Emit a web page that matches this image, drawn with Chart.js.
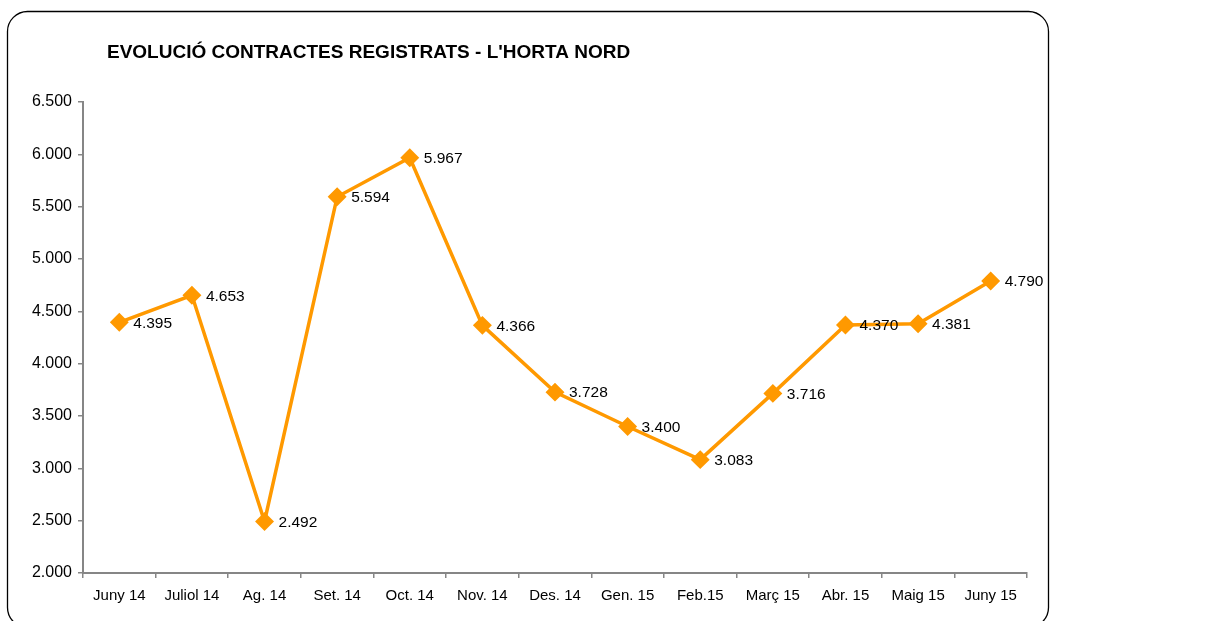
<!DOCTYPE html>
<html>
<head>
<meta charset="utf-8">
<script src="https://cdn.jsdelivr.net/npm/chart.js@4"></script>
<style>
  body { margin: 0; background: #fff; }
  canvas { display: block; }
</style>
</head>
<body>
<canvas id="chart" width="1229" height="621"></canvas>
<script>
const TITLE = "EVOLUCIÓ CONTRACTES REGISTRATS - L'HORTA NORD";
const months = ['Juny 14', 'Juliol 14', 'Ag. 14', 'Set. 14', 'Oct. 14', 'Nov. 14', 'Des. 14',
                'Gen. 15', 'Feb.15', 'Març 15', 'Abr. 15', 'Maig 15', 'Juny 15'];
const contracts = [4395, 4653, 2492, 5594, 5967, 4366, 3728, 3400, 3083, 3716, 4370, 4381, 4790];
const yMin = 2000;
const yMax = 6500;
const yStep = 500;

const FONT = '"Liberation Sans", Arial, sans-serif';
const ORANGE = '#FF9900';
const AXIS_GREY = '#868686';

// 4395 -> "4.395"
function fmt(v) {
    return String(Math.round(v)).replace(/\B(?=(\d{3})+(?!\d))/g, '.');
}

// frame + title drawn behind the chart
let framePlugin = {
    id: 'frame',
    beforeDraw(chart) {
        let ctx = chart.ctx;
        ctx.save();
        ctx.fillStyle = '#fff';
        ctx.fillRect(0, 0, chart.width, chart.height);
        ctx.beginPath();
        ctx.roundRect(7.5, 11.5, 1041, 616, 20);
        ctx.lineWidth = 1.3;
        ctx.strokeStyle = '#000';
        ctx.stroke();
        ctx.fillStyle = '#000';
        ctx.font = 'bold 19px ' + FONT;
        ctx.textBaseline = 'middle';
        ctx.fillText(TITLE, 107, 53);
        ctx.restore();
    }
};

// value labels to the right of each point
let labelPlugin = {
    id: 'valueLabels',
    afterDatasetsDraw(chart) {
        let ctx = chart.ctx;
        let meta = chart.getDatasetMeta(0);
        ctx.save();
        ctx.fillStyle = '#000';
        ctx.font = '15.5px ' + FONT;
        ctx.textBaseline = 'middle';
        meta.data.forEach((pt, i) => {
            ctx.fillText(fmt(contracts[i]), pt.x + 14, pt.y + 1);
        });
        ctx.restore();
    }
};

let graph = new Chart(document.getElementById('chart'), {
    type: 'line',
    data: {
        labels: months,
        datasets: [{
            data: contracts,
            borderColor: ORANGE,
            backgroundColor: ORANGE,
            borderWidth: 3.5,
            pointStyle: 'rectRot',
            pointRadius: 7,
            pointHoverRadius: 7,
            tension: 0
        }]
    },
    options: {
        responsive: false,
        animation: false,
        layout: { padding: { left: 10, right: 202, top: 102, bottom: 0 } },
        plugins: {
            legend: { display: false },
            tooltip: { enabled: false }
        },
        scales: {
            x: {
                offset: true,
                grid: {
                    offset: true,
                    drawOnChartArea: false,
                    color: AXIS_GREY,
                    tickLength: 5,
                    lineWidth: 1.5
                },
                border: { color: AXIS_GREY, width: 2 },
                ticks: {
                    color: '#000',
                    font: { family: FONT, size: 15 },
                    padding: 9,
                    maxRotation: 0,
                    autoSkip: false
                },
                afterFit(scale) { scale.height = 48; }
            },
            y: {
                min: yMin,
                max: yMax,
                grid: {
                    drawOnChartArea: false,
                    color: AXIS_GREY,
                    tickLength: 5,
                    lineWidth: 1.5
                },
                border: { color: AXIS_GREY, width: 2 },
                ticks: {
                    stepSize: yStep,
                    color: '#000',
                    font: { family: FONT, size: 16 },
                    padding: 6,
                    callback: (v) => fmt(v)
                },
                afterFit(scale) { scale.width = 73; }
            }
        }
    },
    plugins: [framePlugin, labelPlugin]
});
</script>
</body>
</html>
